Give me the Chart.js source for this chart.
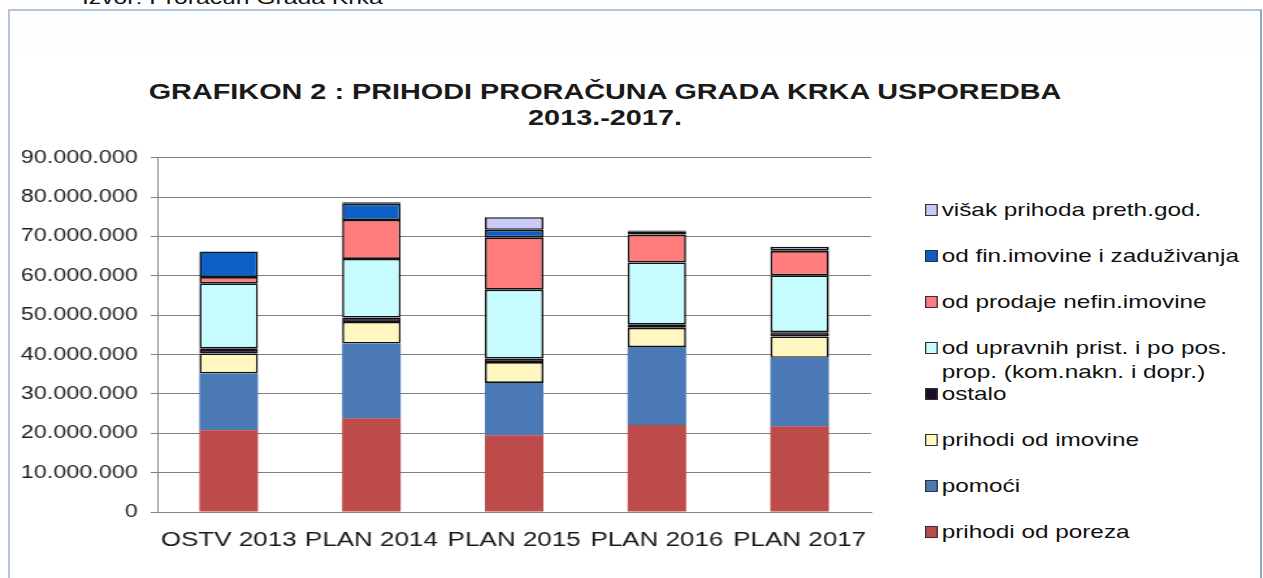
<!DOCTYPE html>
<html>
<head>
<meta charset="utf-8">
<script src="https://cdn.jsdelivr.net/npm/chart.js@4/dist/chart.umd.min.js"></script>
<style>
    body { margin: 0; width: 1263px; height: 578px; overflow: hidden; background: #fff; font-family: Arial, "Liberation Sans", sans-serif; position: relative; }
    #caption { position: absolute; left: 82px; top: -13px; font-size: 19px; color: #111; transform: scaleX(1.3); transform-origin: 0 0; }
    #frame { position: absolute; left: 8px; top: 9px; width: 1250px; height: 600px; border: 2px solid #b4c6d8; border-right-color: #8fa6bd; background: linear-gradient(#fdfeff, #ffffff 60px); }
    #title { position: absolute; left: 205px; width: 800px; top: 79px; text-align: center; font-size: 22px; font-weight: bold; line-height: 26px; color: #1a1a1a; transform: scaleX(1.31); transform-origin: 50% 0; white-space: nowrap; }
    /* the picture is stretched sideways, so the chart is drawn narrow and widened */
    #wrap { position: absolute; left: 0; top: 137px; width: 677px; height: 441px; transform: scaleX(1.3); transform-origin: 0 0; }
    #legend { position: absolute; left: 925px; top: 198px; font-size: 19px; color: #111; transform: scaleX(1.28); transform-origin: 0 0; white-space: nowrap; }
    .item { position: relative; height: 46px; line-height: 24px; padding-left: 13px; }
    .box { position: absolute; left: 0; top: 6px; width: 8px; height: 10px; border: 1px solid #333; }
</style>
</head>
<body>
<div id="caption">Izvor: Proračun Grada Krka</div>
<div id="frame"></div>
<div id="title">GRAFIKON 2 : PRIHODI PRORAČUNA GRADA KRKA USPOREDBA<br>2013.-2017.</div>
<div id="wrap"><canvas id="chart"></canvas></div>
<div id="legend"></div>
<script>
// kategorije
const categories = ['OSTV 2013', 'PLAN 2014', 'PLAN 2015', 'PLAN 2016', 'PLAN 2017'];

// vrijednosti (kn)
const prihodiOdPoreza   = [20800000, 23800000, 19500000, 22100000, 21800000];
const pomoci            = [14400000, 19000000, 13300000, 19800000, 17400000];
const prihodiOdImovine  = [5100000, 5500000, 5300000, 4900000, 5400000];
const ostalo            = [1300000, 1100000, 900000, 800000, 1100000];
const odUpravnih        = [16500000, 14900000, 17500000, 15800000, 14400000];
const odProdaje         = [1600000, 9900000, 13300000, 7100000, 6200000];
const odFinImovine      = [6500000, 4100000, 1900000, 700000, 200000];
const visakPrihoda      = [0, 400000, 3200000, 300000, 900000];

const yTicks = [0, 10000000, 20000000, 30000000, 40000000, 50000000, 60000000, 70000000, 80000000, 90000000];

function ds(label, data, color, bordered) {
    return {
        label: label,
        data: data,
        backgroundColor: color,
        borderColor: bordered ? '#111' : color,
        borderWidth: bordered ? 1.6 : 0,
        borderSkipped: false,
        barPercentage: 0.41,
        categoryPercentage: 1
    };
}

const datasets = [
    ds('prihodi od poreza', prihodiOdPoreza, '#bd4b49', false),
    ds('pomoći', pomoci, '#4a79b6', false),
    ds('prihodi od imovine', prihodiOdImovine, '#fff6c0', true),
    ds('ostalo', ostalo, '#1f0c2c', true),
    ds('od upravnih prist. i po pos.\nprop. (kom.nakn. i dopr.)', odUpravnih, '#c6fcff', true),
    ds('od prodaje nefin.imovine', odProdaje, '#ff7c7c', true),
    ds('od fin.imovine i zaduživanja', odFinImovine, '#0c60c6', true),
    ds('višak prihoda preth.god.', visakPrihoda, '#cacaf6', true)
];

const fmt = v => v === 0 ? '0' : v.toString().replace(/\B(?=(\d{3})+(?!\d))/g, '.');

new Chart(document.getElementById('chart'), {
    type: 'bar',
    data: { labels: categories, datasets: datasets },
    options: {
        responsive: true,
        maintainAspectRatio: false,
        animation: false,
        layout: { padding: { top: 12, right: 7, left: 0, bottom: 0 } },
        plugins: { legend: { display: false }, tooltip: { enabled: false } },
        scales: {
            x: {
                stacked: true,
                // nevidljive crtice samo pomiču natpise prema dolje
                grid: { drawOnChartArea: false, drawTicks: true, tickLength: 12, tickColor: 'rgba(0,0,0,0)' },
                border: { color: '#888', width: 1 },
                ticks: { color: '#1a1a1a', font: { size: 20, family: 'Arial, "Liberation Sans"' }, padding: 4, maxRotation: 0, autoSkip: false },
                afterFit: s => { s.height = 66; }
            },
            y: {
                stacked: true,
                min: 0,
                max: 90000000,
                afterBuildTicks: s => { s.ticks = yTicks.map(v => ({ value: v })); },
                grid: { color: '#808080', lineWidth: 1, tickLength: 5 },
                border: { color: '#888', width: 1 },
                ticks: { color: '#222', font: { size: 18, family: 'Arial, "Liberation Sans"' }, padding: 10, callback: v => fmt(v) },
                afterFit: s => { s.width = 121; }
            }
        }
    }
});

// legenda
const legend = document.getElementById('legend');
datasets.slice().reverse().forEach(d => {
    const item = document.createElement('div');
    item.className = 'item';
    const box = document.createElement('span');
    box.className = 'box';
    box.style.background = d.backgroundColor;
    item.appendChild(box);
    d.label.split('\n').forEach((line, i) => {
        if (i > 0) item.appendChild(document.createElement('br'));
        item.appendChild(document.createTextNode(line));
    });
    legend.appendChild(item);
});
</script>
</body>
</html>
